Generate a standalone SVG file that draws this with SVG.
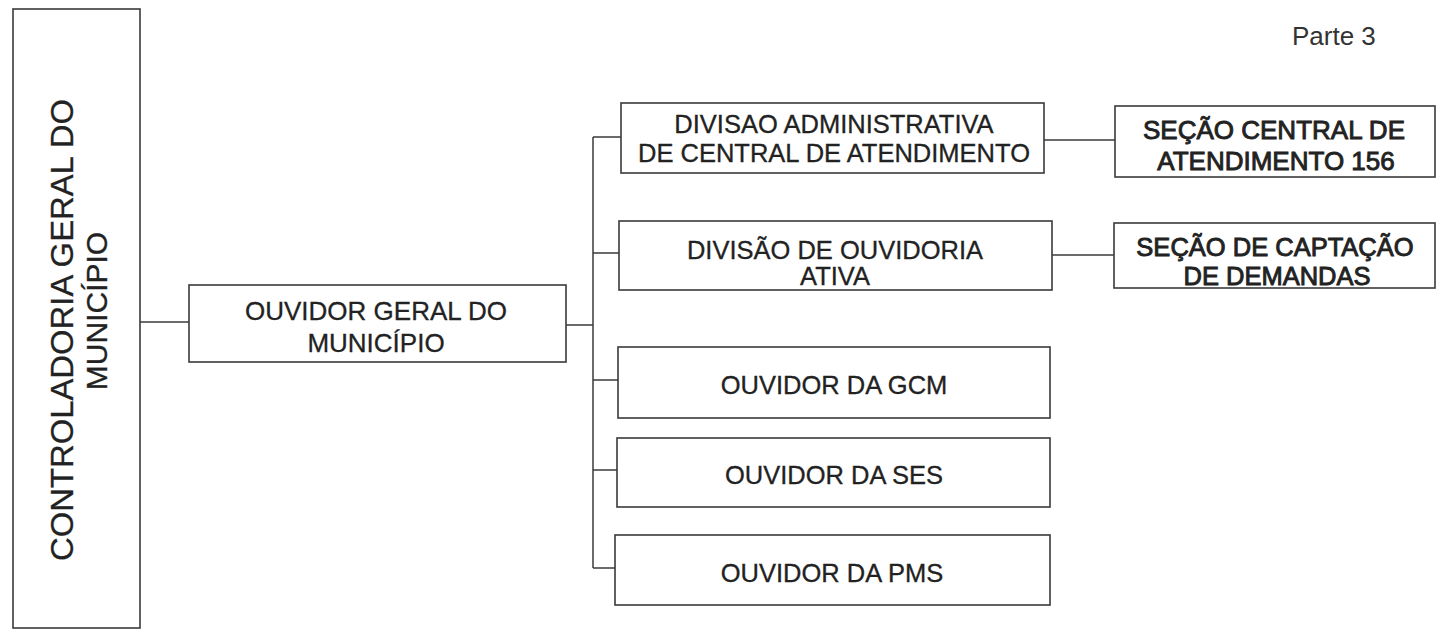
<svg xmlns="http://www.w3.org/2000/svg" width="1436" height="629" viewBox="0 0 1436 629">
<style>
.box{fill:#ffffff;stroke:#3a3a3a;stroke-width:1.6}
.con{fill:none;stroke:#3a3a3a;stroke-width:1.5}
.t{font-family:"Liberation Sans",Arial,sans-serif;font-size:25.5px;fill:#222;stroke:#222;stroke-width:0.3;text-anchor:middle}
.b{stroke-width:0.9;font-size:26px}
</style>
<rect width="1436" height="629" fill="#ffffff"/>
<text x="1292" y="45" style="font-family:'Liberation Sans',Arial,sans-serif;font-size:26px;fill:#333">Parte 3</text>
<g id="connectors">
<line class="con" x1="140" y1="322" x2="189" y2="322"/>
<line class="con" x1="566" y1="325" x2="593" y2="325"/>
<line class="con" x1="593" y1="137" x2="593" y2="568"/>
<line class="con" x1="593" y1="137" x2="621" y2="137"/>
<line class="con" x1="593" y1="253" x2="619" y2="253"/>
<line class="con" x1="593" y1="380" x2="618" y2="380"/>
<line class="con" x1="593" y1="470" x2="617" y2="470"/>
<line class="con" x1="593" y1="568" x2="615" y2="568"/>
<line class="con" x1="1044" y1="140" x2="1115" y2="140"/>
<line class="con" x1="1052" y1="255" x2="1114" y2="255"/>
</g>
<g id="controladoria">
<rect class="box" x="13" y="9" width="127" height="619"/>
<text class="t" style="font-size:31px" transform="translate(73,330) rotate(-90)" textLength="462" lengthAdjust="spacingAndGlyphs">CONTROLADORIA GERAL DO</text>
<text class="t" style="font-size:30px" transform="translate(107,311) rotate(-90)">MUNICÍPIO</text>
</g>
<g id="ouvidor-geral">
<rect class="box" x="189" y="285" width="377" height="77"/>
<text class="t" style="font-size:26px"><tspan x="376" y="320">OUVIDOR GERAL DO</tspan><tspan x="376" y="352">MUNICÍPIO</tspan></text>
</g>
<g id="divisao-administrativa">
<rect class="box" x="621" y="103" width="423" height="70"/>
<text class="t"><tspan x="834" y="133">DIVISAO ADMINISTRATIVA</tspan><tspan x="834" y="162">DE CENTRAL DE ATENDIMENTO</tspan></text>
</g>
<g id="secao-central">
<rect class="box" x="1115" y="106" width="320" height="71"/>
<text class="t b"><tspan x="1274" y="139">SEÇÃO CENTRAL DE</tspan><tspan x="1276" y="170">ATENDIMENTO 156</tspan></text>
</g>
<g id="divisao-ouvidoria">
<rect class="box" x="619" y="221" width="433" height="69"/>
<text class="t"><tspan x="835" y="259">DIVISÃO DE OUVIDORIA</tspan><tspan x="835" y="285">ATIVA</tspan></text>
</g>
<g id="secao-captacao">
<rect class="box" x="1114" y="223" width="321" height="65"/>
<text class="t b" style="font-size:25.5px"><tspan x="1275" y="256">SEÇÃO DE CAPTAÇÃO</tspan><tspan x="1277" y="285">DE DEMANDAS</tspan></text>
</g>
<g id="ouvidor-gcm">
<rect class="box" x="618" y="347" width="432" height="71"/>
<text class="t" x="834" y="394">OUVIDOR DA GCM</text>
</g>
<g id="ouvidor-ses">
<rect class="box" x="617" y="438" width="433" height="69"/>
<text class="t" x="834" y="484">OUVIDOR DA SES</text>
</g>
<g id="ouvidor-pms">
<rect class="box" x="615" y="535" width="435" height="70"/>
<text class="t" x="832" y="582">OUVIDOR DA PMS</text>
</g>
</svg>
